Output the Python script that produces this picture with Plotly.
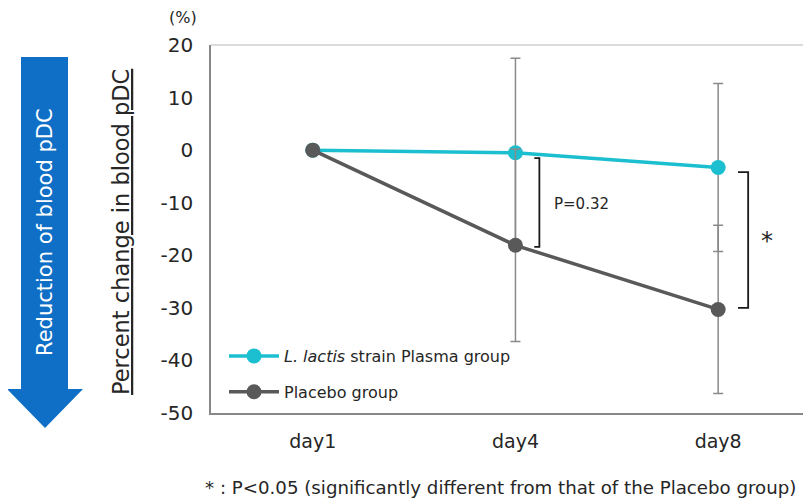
import plotly.graph_objects as go

W, H = 811, 502
OFF = 8  # page body margin of the html page

days = ["day1", "day4", "day8"]
plasma = [0.0, -0.5, -3.3]
plasma_err = [0.0, 18.0, 16.0]
placebo = [0.0, -18.1, -30.3]
placebo_err = [0.0, 18.3, 16.0]
yticks = [20, 10, 0, -10, -20, -30, -40, -50]

FONT = "DejaVu Sans"
TXT = "#262626"

FW, FH = W - OFF, H - OFF
# plot area in page pixels
L, R, T, B = 211, 811, 45, 413

def xp(x):
    return (x - L) / (R - L)

def yp(y):
    return (B - y) / (B - T)

fig = go.Figure()

fig.add_trace(go.Scatter(
    x=days, y=plasma, name="<i>L. lactis</i> strain Plasma group",
    mode="lines+markers", legendgroup="a",
    line=dict(color="#1CBFCF", width=3.5),
    marker=dict(size=15, color="#1CBFCF"),
    error_y=dict(type="data", array=plasma_err, color="#8a8a8a", thickness=1.5, width=5),
))
fig.add_trace(go.Scatter(
    x=days, y=placebo, name="Placebo group",
    mode="lines+markers", legendgroup="b",
    line=dict(color="#595959", width=3.5),
    marker=dict(size=15, color="#595959"),
    error_y=dict(type="data", array=placebo_err, color="#8a8a8a", thickness=1.5, width=5),
))

shapes = []
shapes.append(dict(type="line", xref="paper", yref="paper",
                   x0=0, x1=1, y0=1, y1=1,
                   line=dict(color="#d0d0d0", width=1.5)))

def bracket(xc, y_top, y_bot, tick):
    return dict(type="path", xref="x", yref="y",
                path=f"M {xc - tick},{y_top} L {xc},{y_top} L {xc},{y_bot} L {xc - tick},{y_bot}",
                line=dict(color="#1a1a1a", width=1.8))

shapes.append(bracket(1.118, plasma[1] - 1.0, placebo[1] - 0.3, tick=0.025))
shapes.append(bracket(2.148, plasma[2] - 0.9, placebo[2] + 0.3, tick=0.05))

# blue arrow on the left (page pixel geometry -> paper coords)
ax0, ax1 = 21, 68
hx0, hx1 = 7, 83
ytop, yneck, ytip = 57, 389, 428
pts = [(ax0, ytop), (ax1, ytop), (ax1, yneck), (hx1, yneck), ((hx0 + hx1) / 2, ytip),
       (hx0, yneck), (ax0, yneck)]
path = "M " + " L ".join(f"{xp(a)},{yp(b)}" for a, b in pts) + " Z"
shapes.append(dict(type="path", xref="paper", yref="paper", path=path,
                   fillcolor="#0F6FC6", line=dict(width=0)))

def note(x, y, text, size, color=TXT, angle=0, xanchor="center"):
    return dict(x=xp(x), y=yp(y), xref="paper", yref="paper", text=text,
                textangle=angle, showarrow=False, xanchor=xanchor, yanchor="middle",
                font=dict(family=FONT, size=size, color=color))

annotations = [
    note(45, 232, "Reduction of blood pDC", 21, color="white", angle=-90),
    note(121, 232, "<u>Percent change in blood pDC</u>", 22.5, angle=-90),
    note(183, 18, "(%)", 16),
    dict(x=1.18, y=(plasma[1] + placebo[1]) / 2 - 1.0, xref="x", yref="y", text="P=0.32",
         xanchor="left", yanchor="middle", showarrow=False,
         font=dict(family=FONT, size=15, color=TXT)),
    dict(x=2.2, y=(plasma[2] + placebo[2]) / 2 - 0.5, xref="x", yref="y", text="*",
         xanchor="left", yanchor="middle", showarrow=False,
         font=dict(family=FONT, size=24, color=TXT)),
    note(203, 487, "* : P&lt;0.05 (significantly different from that of the Placebo group)",
         18.2, xanchor="left"),
]

fig.update_layout(
    width=FW, height=FH,
    margin=dict(l=L - OFF, r=W - R, t=T - OFF, b=H - B, autoexpand=False),
    paper_bgcolor="white", plot_bgcolor="white",
    font=dict(family=FONT, color=TXT),
    showlegend=True,
    legend=dict(x=xp(224), y=yp(339), xanchor="left", yanchor="top",
                font=dict(family=FONT, size=16, color=TXT),
                bgcolor="rgba(255,255,255,0)", itemwidth=50, tracegroupgap=12),
    xaxis=dict(range=[-0.502, 2.458], showgrid=False, automargin=False,
               showline=True, linecolor="#888888", linewidth=1.5,
               ticks="", tickfont=dict(family=FONT, size=19, color=TXT), ticklabelstandoff=10,
               zeroline=False),
    yaxis=dict(range=[-50, 20], tickvals=yticks, ticktext=[str(v) for v in yticks],
               showgrid=False, showline=True, linecolor="#888888", linewidth=1.5, automargin=False,
               ticks="", tickfont=dict(family=FONT, size=20, color=TXT), ticklabelstandoff=12,
               zeroline=False),
    shapes=shapes,
    annotations=annotations,
)

fig.write_html("out.html")
